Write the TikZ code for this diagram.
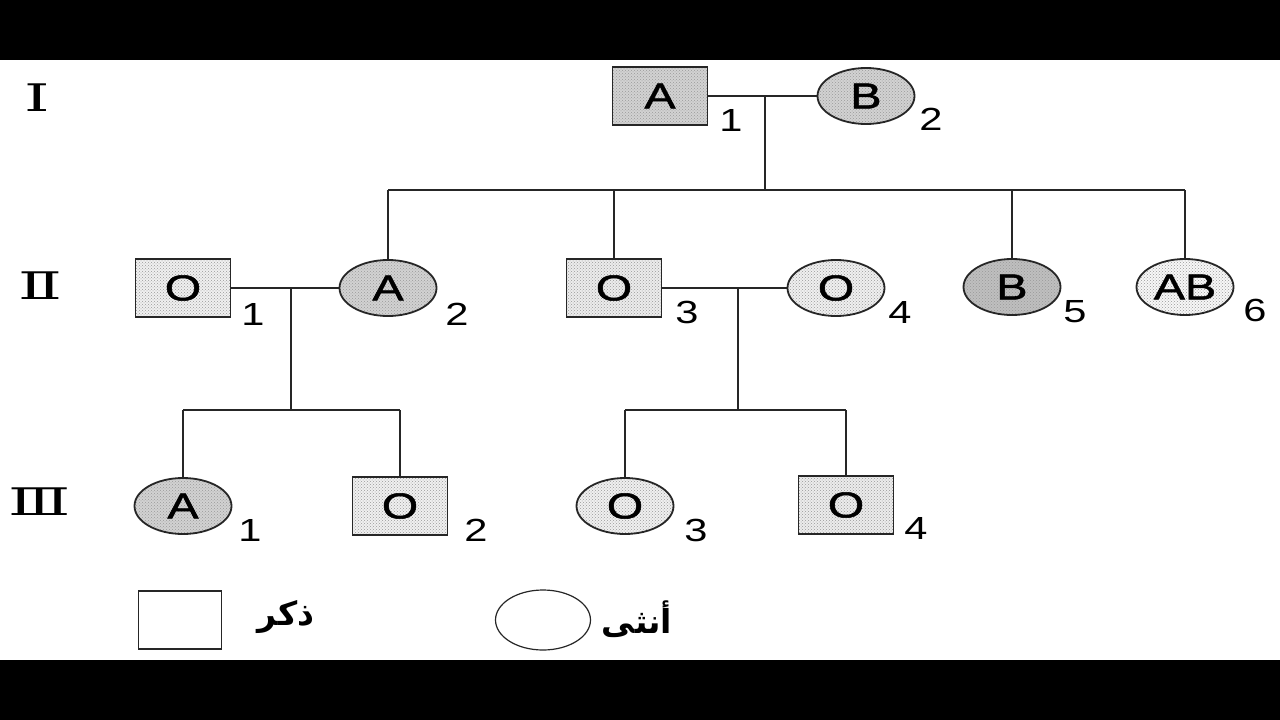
\documentclass[tikz,border=0pt]{standalone}
\usepackage{fontspec}
\usetikzlibrary{shapes.geometric,patterns}
\TeXXeTstate=1
\newfontfamily\widesans[FakeStretch=1.3,FakeBold=1.5]{Liberation Sans}
\newfontfamily\numsans[FakeStretch=1.3]{Liberation Sans}
\newfontfamily\romfont[FakeStretch=1.7]{DejaVu Serif}
\newfontfamily\arabicfont[Script=Arabic]{DejaVu Sans}
\begin{document}
\begin{tikzpicture}[x=1pt,y=-1pt,
  every node/.style={inner sep=0pt,outer sep=0pt},
  person/.style={draw=black!85,line width=1.8pt,font=\widesans\fontsize{36}{38}\selectfont},
  male/.style={person,rectangle,minimum width=95pt,minimum height=58pt},
  female/.style={person,ellipse,minimum width=97pt,minimum height=56pt},
  tone/.style={preaction={fill=#1},pattern=crosshatch dots,pattern color=black!40},
  lbl/.style={font=\numsans\fontsize{32}{34}\selectfont},
  gen/.style={font=\romfont\fontsize{38}{40}\selectfont},
  link/.style={draw=black!85,line width=1.6pt},
  legendbox/.style={draw=black!85,line width=1.2pt,fill=white},
  ar/.style={font=\arabicfont\bfseries\fontsize{33}{36}\selectfont}]
\useasboundingbox (0,0) rectangle (1280,720);
\fill[white] (0,60) rectangle (1280,660);
\fill[black] (0,0) rectangle (1280,60);
\fill[black] (0,660) rectangle (1280,720);

% generation labels
\node[gen] (gI) at (37,98) {Ⅰ};
\node[gen] (gII) at (40,286) {Ⅱ};
\node[gen] (gIII) at (40,502) {Ⅲ};

% generation I
\node[male,tone=gray!35] (I1) at (660,96) {A};
\node[female,tone=gray!35] (I2) at (866,96) {B};
\node[lbl] (nI1) at (731,120) {1};
\node[lbl] (nI2) at (931,119) {2};

% generation II
\node[male,tone=gray!12] (II1) at (183,288) {O};
\node[female,tone=gray!35] (II2) at (388,288) {A};
\node[male,tone=gray!15] (II3) at (614,288) {O};
\node[female,tone=gray!12] (II4) at (836,288) {O};
\node[female,tone=gray!50] (II5) at (1012,287) {B};
\node[female,tone=gray!6] (II6) at (1185,287) {AB};
\node[lbl] (nII1) at (253,314) {1};
\node[lbl] (nII2) at (457,314) {2};
\node[lbl] (nII3) at (687,312) {3};
\node[lbl] (nII4) at (900,312) {4};
\node[lbl] (nII5) at (1075,312) {5};
\node[lbl] (nII6) at (1255,310) {6};

% generation III
\node[female,tone=gray!35] (III1) at (183,506) {A};
\node[male,tone=gray!12] (III2) at (400,506) {O};
\node[female,tone=gray!12] (III3) at (625,506) {O};
\node[male,tone=gray!15] (III4) at (846,505) {O};
\node[lbl] (nIII1) at (250,530) {1};
\node[lbl] (nIII2) at (476,530) {2};
\node[lbl] (nIII3) at (696,530) {3};
\node[lbl] (nIII4) at (916,528) {4};

% connectors generation I
\coordinate (mI) at (765,96);
\coordinate (sI) at (765,190);
\draw[link] (I1.east) -- (I2.west);
\draw[link] (mI) -- (sI);
\draw[link] (II2.north |- sI) -- (II6.north |- sI);
\foreach \c in {II2,II3,II5,II6}{\draw[link] (\c.north |- sI) -- (\c.north);}

% connectors generation II, family 1
\coordinate (mII1) at (291,288);
\coordinate (sII1) at (291,410);
\draw[link] (II1.east) -- (II2.west);
\draw[link] (mII1) -- (sII1);
\draw[link] (III1.north |- sII1) -- (III2.north |- sII1);
\foreach \c in {III1,III2}{\draw[link] (\c.north |- sII1) -- (\c.north);}

% connectors generation II, family 2
\coordinate (mII2) at (738,288);
\coordinate (sII2) at (738,410);
\draw[link] (II3.east) -- (II4.west);
\draw[link] (mII2) -- (sII2);
\draw[link] (III3.north |- sII2) -- (III4.north |- sII2);
\foreach \c in {III3,III4}{\draw[link] (\c.north |- sII2) -- (\c.north);}

% legend
\node[legendbox,rectangle,minimum width=83pt,minimum height=58pt] (lm) at (180,620) {};
\node[ar] (tm) at (286,617) {\beginR ذكر\endR};
\node[legendbox,ellipse,minimum width=95pt,minimum height=60pt] (lf) at (543,620) {};
\node[ar] (tf) at (637,619) {\beginR أنثى\endR};
\end{tikzpicture}
\end{document}
